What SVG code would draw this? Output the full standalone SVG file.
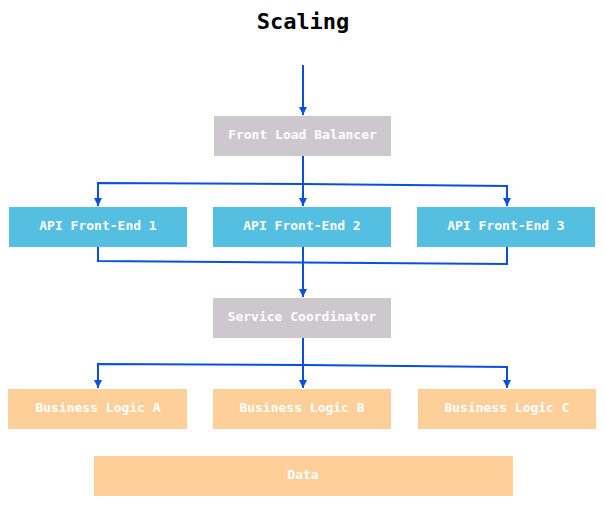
<svg xmlns="http://www.w3.org/2000/svg" width="605" height="506" viewBox="0 0 605 506">
<defs>
<marker id="arr" viewBox="0 0 10 10" refX="10" refY="5" markerWidth="8" markerHeight="8" markerUnits="userSpaceOnUse" orient="auto">
<path d="M0,0 L10,5 L0,10 z" fill="#0a50e0"/>
</marker>
<style>
.lbl{font-family:"DejaVu Sans Mono","Liberation Mono",monospace;font-weight:bold;font-size:13px;fill:#ffffff;text-anchor:middle;dominant-baseline:central}
.gray{fill:#cdc8cd}
.blue{fill:#55bfe2}
.orange{fill:#fecf98}
.c{fill:none;stroke:#0a50e0;stroke-width:2}
</style>
</defs>
<rect width="605" height="506" fill="#ffffff"/>
<text x="303" y="21" font-family="DejaVu Sans Mono, Liberation Mono, monospace" font-weight="bold" font-size="22" text-anchor="middle" dominant-baseline="central" fill="#000000">Scaling</text>
<g id="connectors">
<path class="c" d="M303,65 L303,115" marker-end="url(#arr)"/>
<path class="c" d="M303,156 L303,206" marker-end="url(#arr)"/>
<path class="c" d="M303,184 L98,183 L98,206" marker-end="url(#arr)"/>
<path class="c" d="M303,184 L507,186 L507,206" marker-end="url(#arr)"/>
<path class="c" d="M98,247 L98,261 L303,262.5 L507,264 L507,247"/>
<path class="c" d="M303,247 L303,297" marker-end="url(#arr)"/>
<path class="c" d="M303,338 L303,388" marker-end="url(#arr)"/>
<path class="c" d="M303,365 L98,364 L98,388" marker-end="url(#arr)"/>
<path class="c" d="M303,365 L507,367 L507,388" marker-end="url(#arr)"/>
</g>
<g id="flb"><rect class="gray" x="214" y="116" width="177" height="40"/><text class="lbl" x="302.5" y="134.5">Front Load Balancer</text></g>
<g id="api1"><rect class="blue" x="9" y="207" width="178" height="40"/><text class="lbl" x="98" y="225.5">API Front-End 1</text></g>
<g id="api2"><rect class="blue" x="213" y="207" width="178" height="40"/><text class="lbl" x="302" y="225.5">API Front-End 2</text></g>
<g id="api3"><rect class="blue" x="417" y="207" width="178" height="40"/><text class="lbl" x="506" y="225.5">API Front-End 3</text></g>
<g id="coord"><rect class="gray" x="213" y="298" width="178" height="40"/><text class="lbl" x="302" y="316.5">Service Coordinator</text></g>
<g id="bla"><rect class="orange" x="8" y="389" width="179" height="40"/><text class="lbl" x="98" y="407.5">Business Logic A</text></g>
<g id="blb"><rect class="orange" x="213" y="389" width="178" height="40"/><text class="lbl" x="302" y="407.5">Business Logic B</text></g>
<g id="blc"><rect class="orange" x="418" y="389" width="178" height="40"/><text class="lbl" x="507" y="407.5">Business Logic C</text></g>
<g id="data"><rect class="orange" x="94" y="456" width="419" height="40"/><text class="lbl" x="303" y="474.5">Data</text></g>
</svg>
